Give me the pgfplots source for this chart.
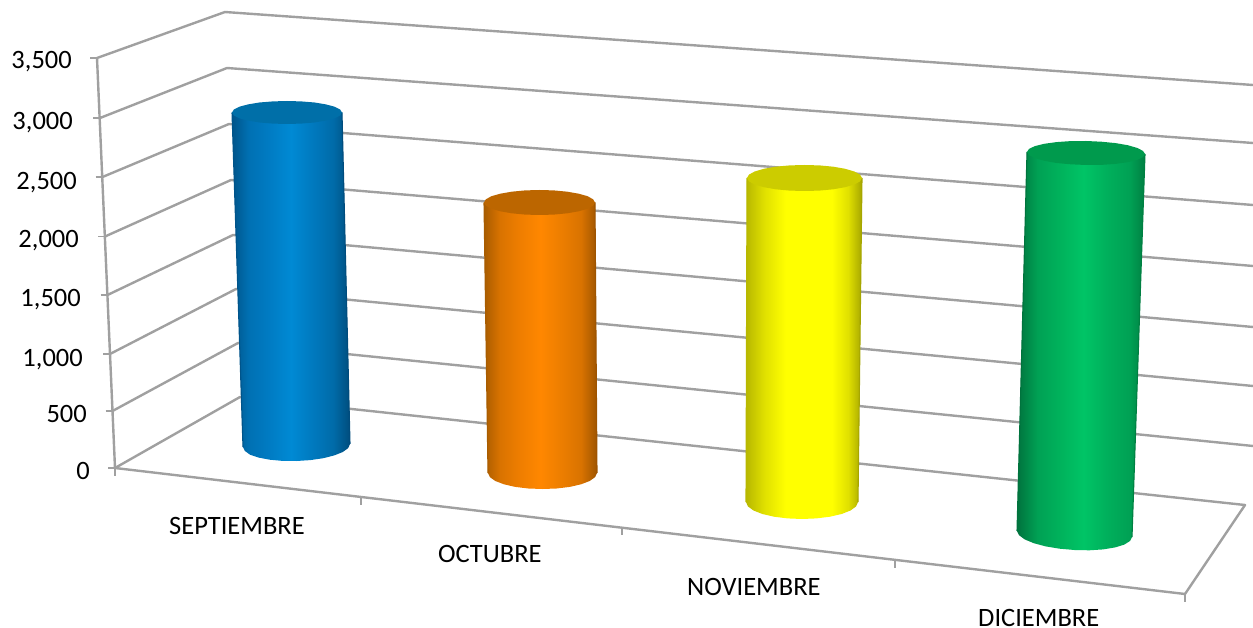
\documentclass[border=0pt]{standalone}
\usepackage{fontspec}
\setmainfont{Carlito}
\usepackage{pgfplots}
\pgfplotsset{compat=1.18}

\definecolor{wallgray}{HTML}{A0A0A0}
\definecolor{bluetop}{HTML}{006FA8}
\definecolor{orangetop}{HTML}{BC6600}
\definecolor{yellowtop}{HTML}{CCCC00}
\definecolor{greentop}{HTML}{009A4D}
\definecolor{blueL}{rgb}{0,.33,.54}
\definecolor{blueR}{rgb}{0,.30,.49}
\definecolor{orangeL}{rgb}{.66,.36,0}
\definecolor{orangeR}{rgb}{.62,.33,0}
\definecolor{yellowL}{rgb}{.72,.72,0}
\definecolor{yellowR}{rgb}{.65,.65,0}
\definecolor{greenL}{rgb}{0,.45,.24}
\definecolor{greenR}{rgb}{0,.50,.26}

\tikzset{
  wall/.style={draw=wallgray, line width=2.4pt, line join=round},
  tick line/.style={draw=wallgray, line width=1.4pt},
  side/.style={draw=none, fill=none},
  rim/.style={line width=1.1pt},
  ylab/.style={anchor=base east, inner sep=0pt, font=\fontsize{26.5}{26.5}\selectfont},
  xlab/.style={anchor=base west, inner sep=0pt, font=\fontsize{26.5}{26.5}\selectfont},
}

% cylinder sides, the path box spans 25bp..75bp
\pgfdeclarehorizontalshading{cylblue}{100bp}{
  rgb(0bp)=(0,.33,.54); rgb(25bp)=(0,.33,.54); rgb(32bp)=(0,.44,.70); rgb(40bp)=(0,.48,.76);
  rgb(50bp)=(0,.54,.83); rgb(60bp)=(0,.47,.74); rgb(68bp)=(0,.42,.66); rgb(75bp)=(0,.30,.49); rgb(100bp)=(0,.30,.49)}
\pgfdeclarehorizontalshading{cylorange}{100bp}{
  rgb(0bp)=(.66,.36,0); rgb(25bp)=(.66,.36,0); rgb(32bp)=(.85,.45,0); rgb(40bp)=(.93,.49,0);
  rgb(50bp)=(1,.53,0); rgb(60bp)=(.92,.49,0); rgb(68bp)=(.85,.45,0); rgb(75bp)=(.62,.33,0); rgb(100bp)=(.62,.33,0)}
\pgfdeclarehorizontalshading{cylyellow}{100bp}{
  rgb(0bp)=(.72,.72,0); rgb(25bp)=(.72,.72,0); rgb(33bp)=(.88,.88,0); rgb(42bp)=(1,1,0);
  rgb(62bp)=(1,1,0); rgb(69bp)=(.88,.88,0); rgb(75bp)=(.65,.65,0); rgb(100bp)=(.65,.65,0)}
\pgfdeclarehorizontalshading{cylgreen}{100bp}{
  rgb(0bp)=(0,.45,.24); rgb(25bp)=(0,.45,.24); rgb(33bp)=(0,.63,.33); rgb(42bp)=(0,.70,.36);
  rgb(51bp)=(0,.77,.40); rgb(60bp)=(0,.69,.36); rgb(69bp)=(0,.63,.33); rgb(75bp)=(0,.50,.26); rgb(100bp)=(0,.50,.26)}

\begin{document}
\begin{tikzpicture}
  \begin{axis}[
      scale only axis,
      width=1253pt, height=628pt,
      xmin=0, xmax=1253,
      ymin=0, ymax=628,
      y dir=reverse,
      axis line style={draw=none},
      ticks=none,
      no marks,
      every axis plot/.append style={forget plot},
    ]

    % walls: front edge of the left wall, back corner, right end
    \addplot[wall] coordinates {(97,58) (225,12) (1253,85)};
    \addplot[wall] coordinates {(100,118) (227,68) (1253,143)};
    \addplot[wall] coordinates {(102.5,177) (229,124) (1253,205)};
    \addplot[wall] coordinates {(105,236.5) (231,180) (1253,266)};
    \addplot[wall] coordinates {(107.5,295) (233,235) (1253,327)};
    \addplot[wall] coordinates {(110,354) (236,289) (1253,386)};
    \addplot[wall] coordinates {(112.5,411) (238,343) (1253,446)};
    % floor and value axis
    \addplot[wall] coordinates {(115,468) (240,397) (1245,505) (1185,594) (115,468)};
    \addplot[wall] coordinates {(97,58) (115,468)};

    % ticks
    \addplot[tick line] coordinates {(90,58) (97,58)};
    \addplot[tick line] coordinates {(93,118) (100,118)};
    \addplot[tick line] coordinates {(95.5,177) (102.5,177)};
    \addplot[tick line] coordinates {(98,236.5) (105,236.5)};
    \addplot[tick line] coordinates {(100.5,295) (107.5,295)};
    \addplot[tick line] coordinates {(103,354) (110,354)};
    \addplot[tick line] coordinates {(105.5,411) (112.5,411)};
    \addplot[tick line] coordinates {(108,468) (115,468)};
    \addplot[tick line] coordinates {(115,468) (115,476)};
    \addplot[tick line] coordinates {(361,497) (361,505)};
    \addplot[tick line] coordinates {(622,527.5) (622,535)};
    \addplot[tick line] coordinates {(895,560) (895,568)};
    \addplot[tick line] coordinates {(1185,594) (1185,602)};

    % SEPTIEMBRE
    \addplot[side, shading=cylblue] coordinates {
      (342,112.5) (350,444) (348.2,448.1) (342.8,452) (334.3,455.4) (323.3,458.2) (310.4,460.1)
      (296.5,461) (282.6,460.9) (269.7,459.7) (258.7,457.6) (250.2,454.8) (244.8,450.9) (243,447)
      (232,112.5)} -- cycle;
    \addplot[rim, draw=blueL] coordinates {(232,112.5) (243,447)};
    \addplot[rim, draw=blueR] coordinates {(342,112.5) (350,444)};
    \addplot[draw=none, fill=bluetop] coordinates {
      (342,112.5) (340.1,115.5) (334.6,118.3) (325.9,120.6) (314.5,122.5) (301.2,123.6) (287,124)
      (272.8,123.6) (259.5,122.5) (248.1,120.6) (239.4,118.3) (233.9,115.5) (232,112.5)
      (233.9,109.5) (239.4,106.7) (248.1,104.4) (259.5,102.5) (272.8,101.4) (287,101)
      (301.2,101.4) (314.5,102.5) (325.9,104.4) (334.6,106.7) (340.1,109.5)} -- cycle;

    % OCTUBRE
    \addplot[side, shading=cylorange] coordinates {
      (595,202.5) (597,473) (595.1,477.1) (589.7,481) (581,484.3) (569.8,486.9) (556.6,488.5)
      (542.5,489) (528.4,488.5) (515.2,486.9) (504,484.3) (495.3,481) (489.9,477.1) (488,473)
      (484,202.5)} -- cycle;
    \addplot[rim, draw=orangeL] coordinates {(484,202.5) (488,473)};
    \addplot[rim, draw=orangeR] coordinates {(595,202.5) (597,473)};
    \addplot[draw=none, fill=orangetop] coordinates {
      (595,202.5) (593.1,205.7) (587.6,208.8) (578.7,211.3) (567.3,213.3) (553.9,214.6) (539.5,215)
      (525.1,214.6) (511.7,213.3) (500.3,211.3) (491.4,208.8) (485.9,205.7) (484,202.5)
      (485.9,199.3) (491.4,196.2) (500.3,193.7) (511.7,191.7) (525.1,190.4) (539.5,190)
      (553.9,190.4) (567.3,191.7) (578.7,193.7) (587.6,196.2) (593.1,199.3)} -- cycle;

    % NOVIEMBRE
    \addplot[side, shading=cylyellow] coordinates {
      (862,178) (858,502) (856.1,506.4) (850.5,510.5) (841.6,514) (830,516.7) (816.5,518.4)
      (802,519) (787.5,518.4) (774,516.7) (762.4,514) (753.5,510.5) (747.9,506.4) (746,502)
      (747,178)} -- cycle;
    \addplot[rim, draw=yellowL] coordinates {(747,178) (746,502)};
    \addplot[rim, draw=yellowR] coordinates {(862,178) (858,502)};
    \addplot[draw=none, fill=yellowtop] coordinates {
      (862,178) (860,181.4) (854.3,184.5) (845.2,187.2) (833.3,189.3) (819.4,190.6) (804.5,191)
      (789.6,190.6) (775.7,189.3) (763.8,187.2) (754.7,184.5) (749,181.4) (747,178)
      (749,174.6) (754.7,171.5) (763.8,168.8) (775.7,166.7) (789.6,165.4) (804.5,165)
      (819.4,165.4) (833.3,166.7) (845.2,168.8) (854.3,171.5) (860,174.6)} -- cycle;

    % DICIEMBRE
    \addplot[side, shading=cylgreen] coordinates {
      (1145,154) (1132,537) (1130,541) (1124.3,544.6) (1115.2,547.4) (1103.3,549.4) (1089.4,550.3)
      (1074.5,550) (1059.6,548.7) (1045.7,546.4) (1033.8,543.2) (1024.7,539.4) (1019,535.2) (1017,531)
      (1027,152)} -- cycle;
    \addplot[rim, draw=greenL] coordinates {(1027,152) (1017,531)};
    \addplot[rim, draw=greenR] coordinates {(1145,154) (1132,537)};
    \addplot[draw=none, fill=greentop] coordinates {
      (1145,154) (1143,157.1) (1137.1,159.9) (1127.7,162.2) (1115.5,163.9) (1101.3,164.9) (1086,165)
      (1070.7,164.3) (1056.5,163) (1044.3,160.8) (1034.9,158.1) (1029,155.1) (1027,152)
      (1029,148.9) (1034.9,146.1) (1044.3,143.8) (1056.5,142.1) (1070.7,141.1) (1086,141)
      (1101.3,141.7) (1115.5,143.1) (1127.7,145.2) (1137.1,147.9) (1143,150.9)} -- cycle;

    % value labels
    \node[ylab] at (axis cs:72,69) {3,500};
    \node[ylab] at (axis cs:73,130) {3,000};
    \node[ylab] at (axis cs:77,190) {2,500};
    \node[ylab] at (axis cs:79,248) {2,000};
    \node[ylab] at (axis cs:81,307) {1,500};
    \node[ylab] at (axis cs:83,366) {1,000};
    \node[ylab] at (axis cs:87,422) {500};
    \node[ylab] at (axis cs:90,479) {0};

    % month labels
    \node[xlab] at (axis cs:169,534) {SEPTIEMBRE};
    \node[xlab] at (axis cs:438,562) {OCTUBRE};
    \node[xlab] at (axis cs:687,595) {NOVIEMBRE};
    \node[xlab] at (axis cs:978,626.5) {DICIEMBRE};
  \end{axis}
\end{tikzpicture}
\end{document}
